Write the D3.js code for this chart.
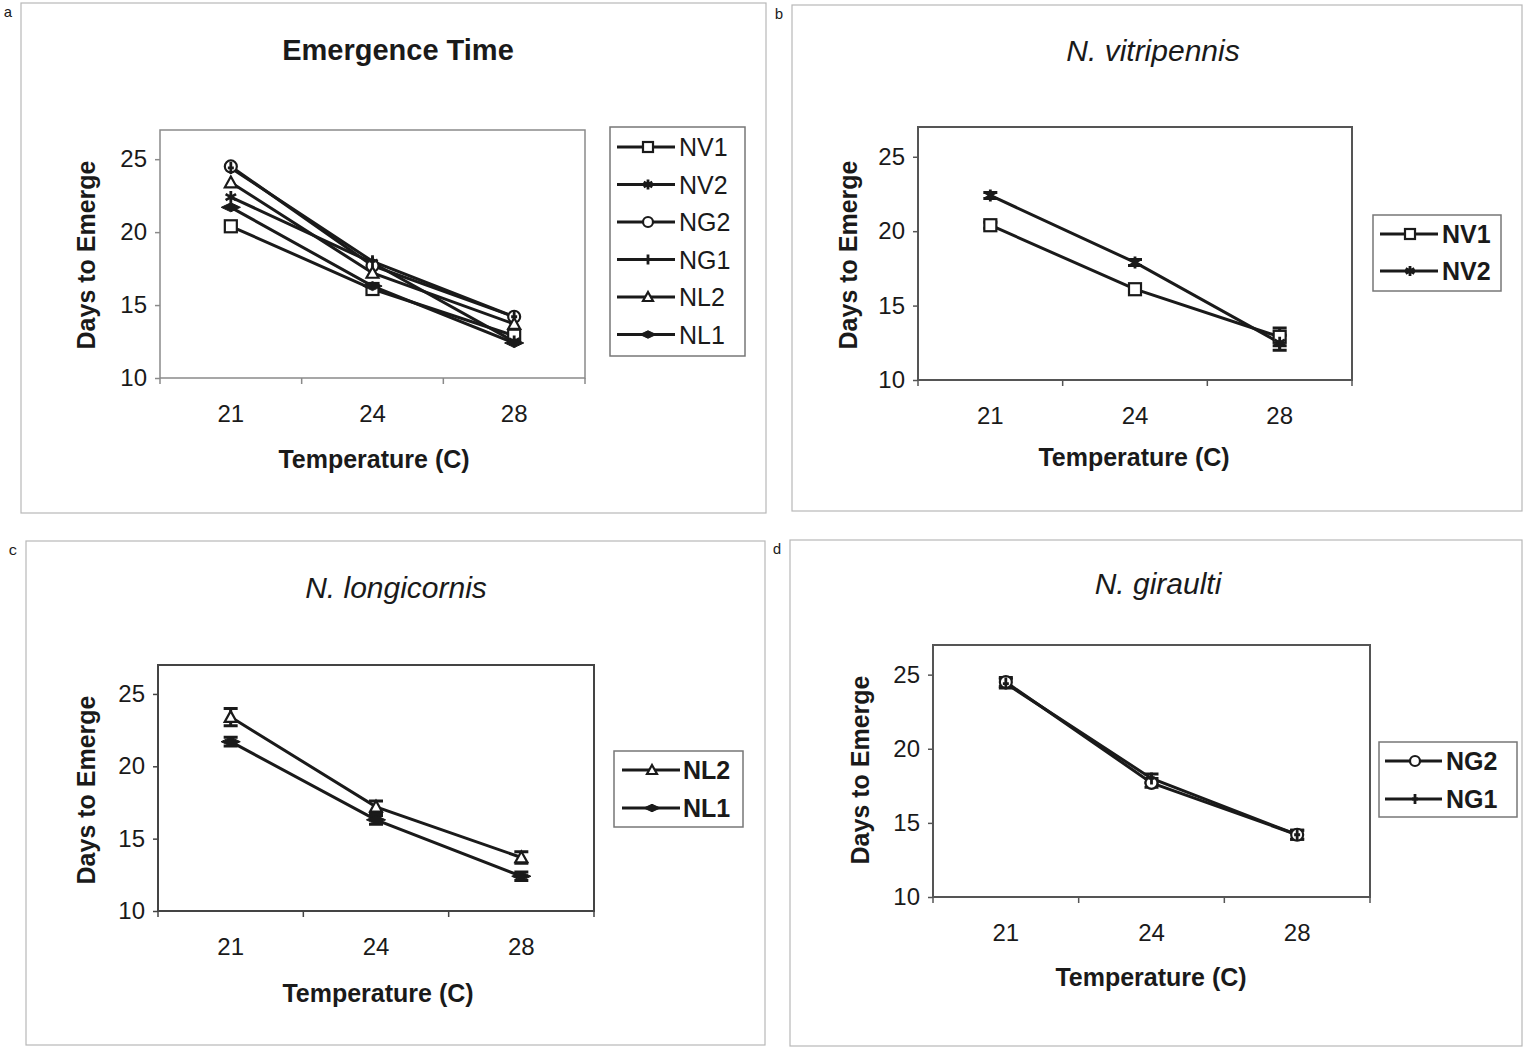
<!DOCTYPE html>
<html>
<head>
<meta charset="utf-8">
<script src="https://cdn.jsdelivr.net/npm/d3@7"></script>
<style>
body { margin: 0; background: #fff; }
text { font-family: Arial, "Liberation Sans", sans-serif; fill: #1a1a1a; }
</style>
</head>
<body>
<svg id="fig" width="1524" height="1050"></svg>
<script>
/* data : days to emerge at each temperature */
var temps = ["21", "24", "28"]
var yTicks = [10, 15, 20, 25]

var nv1 = [20.4, 16.1, 12.9]
var nv2 = [22.4, 17.9, 12.5]
var ng2 = [24.5, 17.7, 14.2]
var ng1 = [24.4, 18.0, 14.2]
var nl2 = [23.4, 17.2, 13.7]
var nl1 = [21.7, 16.3, 12.4]

/* standard errors, only drawn on the single species panels */
var nv1Err = [0.2, 0.2, 0.6]
var nv2Err = [0.2, 0.2, 0.5]
var ng2Err = [0.3, 0.3, 0.3]
var ng1Err = [0.3, 0.3, 0.3]
var nl2Err = [0.6, 0.4, 0.4]
var nl1Err = [0.3, 0.3, 0.3]

var strains = {
    NV1: {vals: nv1, err: nv1Err, mark: "square"},
    NV2: {vals: nv2, err: nv2Err, mark: "star"},
    NG2: {vals: ng2, err: ng2Err, mark: "circle"},
    NG1: {vals: ng1, err: ng1Err, mark: "plus"},
    NL2: {vals: nl2, err: nl2Err, mark: "triangle"},
    NL1: {vals: nl1, err: nl1Err, mark: "spindle"}
}

var ink = "#1a1a1a"
var svg = d3.select("#fig")

/* layout of the four panels */
var panels = [
    {letter: "a", names: ["NV1", "NV2", "NG2", "NG1", "NL2", "NL1"], errors: false,
     frame: [21, 3, 745, 510], plot: {x: 160, y: 130, w: 425, h: 248}, plotStroke: ["#8a8a8a", 1.5],
     title: "Emergence Time", italic: false, titleXY: [398, 50],
     yTitleXY: [86, 255], xTitleXY: [374, 459],
     legend: {x: 610, y: 127, w: 135, h: 229, first: 147, step: 37.5, l1: 617, l2: 675, m: 648, t: 679, bold: false}},
    {letter: "b", names: ["NV1", "NV2"], errors: true,
     frame: [792, 5, 730, 506], plot: {x: 918, y: 127, w: 434, h: 253}, plotStroke: ["#555", 2],
     title: "N. vitripennis", italic: true, titleXY: [1153, 50],
     yTitleXY: [848, 255], xTitleXY: [1134, 457],
     legend: {x: 1373, y: 215, w: 128, h: 76, first: 234, step: 37, l1: 1380, l2: 1438, m: 1410, t: 1442, bold: true}},
    {letter: "c", names: ["NL2", "NL1"], errors: true,
     frame: [26, 541, 739, 504], plot: {x: 158, y: 665, w: 436, h: 246}, plotStroke: ["#444", 2],
     title: "N. longicornis", italic: true, titleXY: [396, 587],
     yTitleXY: [86, 790], xTitleXY: [378, 993],
     legend: {x: 614, y: 751, w: 129, h: 76, first: 770, step: 38, l1: 622, l2: 680, m: 652, t: 683, bold: true}},
    {letter: "d", names: ["NG2", "NG1"], errors: true,
     frame: [790, 540, 732, 506], plot: {x: 933, y: 645, w: 437, h: 252}, plotStroke: ["#555", 2],
     title: "N. giraulti", italic: true, titleXY: [1158, 583],
     yTitleXY: [860, 770], xTitleXY: [1151, 977],
     legend: {x: 1379, y: 742, w: 138, h: 75, first: 761, step: 38, l1: 1385, l2: 1442, m: 1415, t: 1446, bold: true}}
]

/*-- markers --*/
function drawMarker(sel, type, s) {
    if (type == "square") {
        sel.append("rect")
            .attr("x", -s).attr("y", -s)
            .attr("width", 2 * s).attr("height", 2 * s)
            .attr("fill", "#fff").attr("stroke", ink).attr("stroke-width", 2.2)
    }
    if (type == "circle") {
        sel.append("circle")
            .attr("r", s)
            .attr("fill", "#fff").attr("stroke", ink).attr("stroke-width", 2.2)
    }
    if (type == "triangle") {
        sel.append("path")
            .attr("d", "M0," + (-s) + "L" + s + "," + (s * 0.8) + "L" + (-s) + "," + (s * 0.8) + "Z")
            .attr("fill", "#fff").attr("stroke", ink).attr("stroke-width", 2.2)
    }
    if (type == "star") {
        var a = s * 0.87, b = s * 0.5
        sel.append("path")
            .attr("d", "M0," + (-s) + "L0," + s +
                       "M" + (-a) + "," + (-b) + "L" + a + "," + b +
                       "M" + (-a) + "," + b + "L" + a + "," + (-b))
            .attr("fill", "none").attr("stroke", ink).attr("stroke-width", 2.8)
    }
    if (type == "plus") {
        sel.append("path")
            .attr("d", "M0," + (-s) + "L0," + s + "M-3,0L3,0")
            .attr("fill", "none").attr("stroke", ink).attr("stroke-width", 2.8)
    }
    if (type == "spindle") {
        sel.append("path")
            .attr("d", "M" + (-s * 1.6) + ",0L0," + (-s * 0.75) + "L" + (s * 1.6) + ",0L0," + (s * 0.75) + "Z")
            .attr("fill", ink).attr("stroke", ink).attr("stroke-width", 1)
    }
}

/*-- one chart --*/
function drawPanel(p) {
    var g = svg.append("g").attr("class", "panel_" + p.letter)

    /* outer frame and letter */
    g.append("rect")
        .attr("x", p.frame[0]).attr("y", p.frame[1])
        .attr("width", p.frame[2]).attr("height", p.frame[3])
        .attr("fill", "none").attr("stroke", "#b8b8b8").attr("stroke-width", 1.2)

    g.append("text")
        .text(p.letter)
        .attr("x", p.frame[0] - 13).attr("y", p.frame[1] + 14)
        .attr("text-anchor", "middle")
        .style("font-family", "'Liberation Mono', 'DejaVu Sans Mono', monospace")
        .style("font-size", "15px")

    var x = d3.scaleBand().domain(temps).range([p.plot.x, p.plot.x + p.plot.w])
    var y = d3.scaleLinear().domain([10, 27]).range([p.plot.y + p.plot.h, p.plot.y])
    var cx = function(i) { return x(temps[i]) + x.bandwidth() / 2 }

    /* plot area */
    g.append("rect")
        .attr("x", p.plot.x).attr("y", p.plot.y)
        .attr("width", p.plot.w).attr("height", p.plot.h)
        .attr("fill", "#fff").attr("stroke", p.plotStroke[0]).attr("stroke-width", p.plotStroke[1])

    /* y axis */
    var ya = g.append("g")
        .attr("transform", "translate(" + p.plot.x + ",0)")
        .call(d3.axisLeft(y).tickValues(yTicks).tickSize(5).tickPadding(8))
    ya.select(".domain").remove()
    ya.selectAll("line").attr("stroke", p.plotStroke[0]).attr("stroke-width", 1.5)
    ya.selectAll("text").style("font-size", "24px")

    /* x axis: labels centred on categories, ticks on band edges */
    var xa = g.append("g")
        .attr("transform", "translate(0," + (p.plot.y + p.plot.h) + ")")
        .call(d3.axisBottom(x).tickSize(0).tickPadding(27))
    xa.select(".domain").remove()
    xa.selectAll("text").style("font-size", "24px")

    var edges = temps.map(function(t) { return x(t) }).concat([x.range()[1]])
    g.selectAll(".xedge")
        .data(edges)
        .enter()
        .append("line")
        .attr("class", "xedge")
        .attr("x1", function(d) { return d }).attr("x2", function(d) { return d })
        .attr("y1", p.plot.y + p.plot.h).attr("y2", p.plot.y + p.plot.h + 6)
        .attr("stroke", p.plotStroke[0]).attr("stroke-width", 1.5)

    /* titles */
    g.append("text")
        .text(p.title)
        .attr("x", p.titleXY[0]).attr("y", p.titleXY[1])
        .attr("text-anchor", "middle").attr("dominant-baseline", "central")
        .style("font-size", p.italic ? "30px" : "29px")
        .style("font-weight", p.italic ? "normal" : "bold")
        .style("font-style", p.italic ? "italic" : "normal")

    g.append("text")
        .text("Days to Emerge")
        .attr("transform", "translate(" + p.yTitleXY[0] + "," + p.yTitleXY[1] + ") rotate(-90)")
        .attr("text-anchor", "middle").attr("dominant-baseline", "central")
        .style("font-size", "25px").style("font-weight", "bold")

    g.append("text")
        .text("Temperature (C)")
        .attr("x", p.xTitleXY[0]).attr("y", p.xTitleXY[1])
        .attr("text-anchor", "middle").attr("dominant-baseline", "central")
        .style("font-size", "25px").style("font-weight", "bold")

    /* series lines */
    var line = d3.line()
        .x(function(d, i) { return cx(i) })
        .y(function(d) { return y(d) })

    p.names.forEach(function(n) {
        g.append("path")
            .datum(strains[n].vals)
            .attr("d", line)
            .attr("fill", "none").attr("stroke", ink).attr("stroke-width", 3)
    })

    /* error bars */
    if (p.errors) {
        p.names.forEach(function(n) {
            var s = strains[n]
            s.vals.forEach(function(v, i) {
                var e = s.err[i]
                g.append("path")
                    .attr("d", "M" + cx(i) + "," + y(v - e) + "V" + y(v + e) +
                               "M" + (cx(i) - 7) + "," + y(v - e) + "h14" +
                               "M" + (cx(i) - 7) + "," + y(v + e) + "h14")
                    .attr("fill", "none").attr("stroke", ink).attr("stroke-width", 3)
            })
        })
    }

    /* markers */
    p.names.forEach(function(n) {
        strains[n].vals.forEach(function(v, i) {
            var m = g.append("g").attr("transform", "translate(" + cx(i) + "," + y(v) + ")")
            drawMarker(m, strains[n].mark, 6)
        })
    })

    /* legend */
    var L = p.legend
    g.append("rect")
        .attr("x", L.x).attr("y", L.y).attr("width", L.w).attr("height", L.h)
        .attr("fill", "#fff").attr("stroke", "#777").attr("stroke-width", 1.5)

    p.names.forEach(function(n, k) {
        var ly = L.first + k * L.step
        g.append("line")
            .attr("x1", L.l1).attr("x2", L.l2).attr("y1", ly).attr("y2", ly)
            .attr("stroke", ink).attr("stroke-width", 3)
        var m = g.append("g").attr("transform", "translate(" + L.m + "," + ly + ")")
        drawMarker(m, strains[n].mark, 5)
        g.append("text")
            .text(n)
            .attr("x", L.t).attr("y", ly)
            .attr("dominant-baseline", "central")
            .style("font-size", "25px")
            .style("font-weight", L.bold ? "bold" : "normal")
    })
}

svg.append("rect").attr("width", 1524).attr("height", 1050).attr("fill", "#fff")
panels.forEach(drawPanel)
</script>
</body>
</html>
